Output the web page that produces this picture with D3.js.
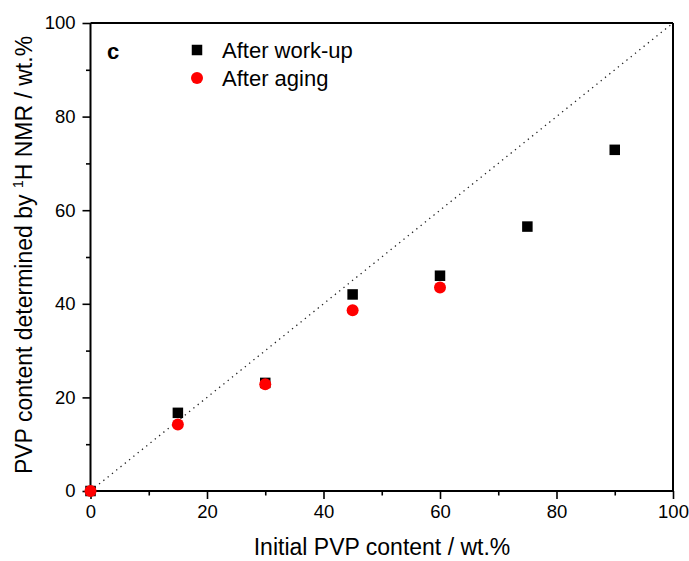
<!DOCTYPE html>
<html>
<head>
<meta charset="utf-8">
<script src="https://cdn.jsdelivr.net/npm/d3@7"></script>
<style>
  body { margin: 0; background: #fff; }
  svg { display: block; font-family: "Liberation Sans", Arial, sans-serif; }
</style>
</head>
<body>
<svg id="chart" width="689" height="561"></svg>
<script>
const initialPVP = [0, 15, 30, 45, 60, 75, 90];
const afterWorkup = [0, 16.7, 23.1, 42.0, 46.0, 56.5, 72.9];
const agingPVP = [0, 15, 30, 45, 60];
const afterAging = [0, 14.2, 22.8, 38.6, 43.5];
const majorTicks = [0, 20, 40, 60, 80, 100];
const minorTicks = [10, 30, 50, 70, 90];
const seriesNames = ["After work-up", "After aging"];

const svg = d3.select("#chart");
const L = 90.5, R = 673, T = 23, B = 491;
const x = d3.scaleLinear().domain([0, 100]).range([L, R]);
const y = d3.scaleLinear().domain([0, 100]).range([B, T]);

// diagonal reference line
svg.append("line")
  .attr("x1", x(0)).attr("y1", y(0)).attr("x2", x(100)).attr("y2", y(100))
  .attr("stroke", "#222").attr("stroke-width", 1.3)
  .attr("stroke-dasharray", "1.3,4.2");

// frame (top, right)
svg.append("line").attr("x1", L).attr("x2", R).attr("y1", T).attr("y2", T)
  .attr("stroke", "#000").attr("stroke-width", 2);
svg.append("line").attr("x1", R).attr("x2", R).attr("y1", T).attr("y2", B)
  .attr("stroke", "#000").attr("stroke-width", 2);

// x axis
const xAxis = svg.append("g").attr("transform", `translate(0,${B})`)
  .call(d3.axisBottom(x).tickValues(majorTicks).tickSize(8).tickPadding(6).tickFormat(d3.format("d")));
xAxis.select(".domain").attr("stroke-width", 2).attr("d", `M${L},0H${R}`);
xAxis.selectAll(".tick line").attr("stroke-width", 1.6);
xAxis.selectAll(".tick text").attr("font-size", 18.5).attr("font-family", "Liberation Sans, Arial, sans-serif").attr("fill", "#000");
svg.append("g").attr("transform", `translate(0,${B})`)
  .call(d3.axisBottom(x).tickValues(minorTicks).tickSize(4.5).tickFormat(""))
  .call(g => g.select(".domain").remove())
  .selectAll(".tick line").attr("stroke-width", 1.6);

// y axis
const yAxis = svg.append("g").attr("transform", `translate(${L},0)`)
  .call(d3.axisLeft(y).tickValues(majorTicks).tickSize(8).tickPadding(7).tickFormat(d3.format("d")));
yAxis.select(".domain").attr("stroke-width", 2).attr("d", `M0,${B}V${T}`);
yAxis.selectAll(".tick line").attr("stroke-width", 1.6);
yAxis.selectAll(".tick text").attr("font-size", 18.5).attr("font-family", "Liberation Sans, Arial, sans-serif").attr("fill", "#000");
svg.append("g").attr("transform", `translate(${L},0)`)
  .call(d3.axisLeft(y).tickValues(minorTicks).tickSize(4.5).tickFormat(""))
  .call(g => g.select(".domain").remove())
  .selectAll(".tick line").attr("stroke-width", 1.6);

// data: squares
const sq = 10.5;
svg.append("g").selectAll("rect").data(initialPVP.map((v, i) => [v, afterWorkup[i]]))
  .join("rect")
  .attr("x", d => x(d[0]) - sq / 2).attr("y", d => y(d[1]) - sq / 2)
  .attr("width", sq).attr("height", sq).attr("fill", "#000");

// data: circles
svg.append("g").selectAll("circle").data(agingPVP.map((v, i) => [v, afterAging[i]]))
  .join("circle")
  .attr("cx", d => x(d[0])).attr("cy", d => y(d[1])).attr("r", 6)
  .attr("fill", "#ff0000");

// panel label
svg.append("text").attr("x", 107).attr("y", 59).attr("font-size", 22)
  .attr("font-weight", "bold").text("c");

// legend
svg.append("rect").attr("x", 197 - sq / 2).attr("y", 50 - sq / 2).attr("width", sq).attr("height", sq).attr("fill", "#000");
svg.append("circle").attr("cx", 197).attr("cy", 78).attr("r", 6).attr("fill", "#ff0000");
svg.append("text").attr("x", 222).attr("y", 58).attr("font-size", 22).text(seriesNames[0]);
svg.append("text").attr("x", 222).attr("y", 86).attr("font-size", 22).text(seriesNames[1]);

// axis titles
svg.append("text").attr("x", 382).attr("y", 555).attr("text-anchor", "middle")
  .attr("font-size", 23).text("Initial PVP content / wt.%");

const yt = svg.append("text").attr("transform", "translate(32,255) rotate(-90)")
  .attr("text-anchor", "middle").attr("font-size", 23);
yt.append("tspan").text("PVP content determined by ");
yt.append("tspan").attr("font-size", 14).attr("dy", -9).text("1");
yt.append("tspan").attr("dy", 9).text("H NMR / wt.%");
</script>
</body>
</html>
